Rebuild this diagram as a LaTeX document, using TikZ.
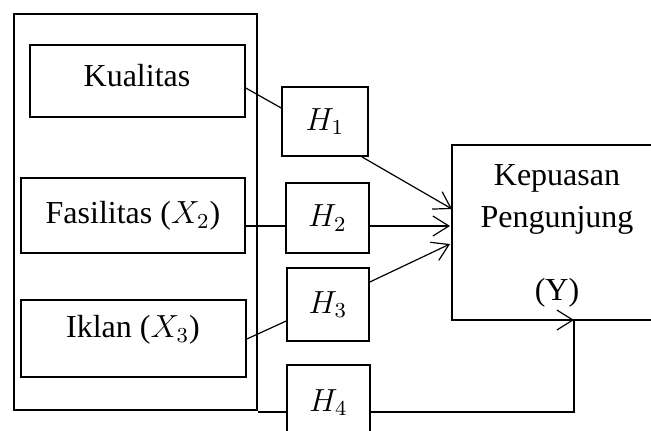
\documentclass[tikz,border=0pt]{standalone}
\usepackage{fontspec}
\setmainfont{Liberation Serif}
\usetikzlibrary{positioning}
\usetikzlibrary{arrows.meta}
\usetikzlibrary{calc}
\tikzset{
  box/.style={draw, line width=0.6pt, inner sep=0pt, align=center},
  link/.style={draw, line width=0.45pt},
  tip/.style={-{Straight Barb[length=6pt,width=7.5pt]}}
}
\def\px#1{#1*0.375pt}

\begin{document}
\begin{tikzpicture}[x=0.375pt, y=-0.375pt, font=\fontsize{12}{15.75}\selectfont]
\clip (0,0) rectangle (651,430);
\useasboundingbox (0,0) rectangle (651,430);
% left group
\node[box, minimum width=\px{243}, minimum height=\px{396}] (grp) at (135.5,212) {};
\node[box, minimum width=\px{215}, minimum height=\px{72}] (kual) at (137.5,81) {};
\node (kualtxt) at (137,76) {Kualitas};
\node[box, minimum width=\px{224}, minimum height=\px{75}] (fas) at (133,215.5) {Fasilitas ($X_2$)};
\node[box, minimum width=\px{225}, minimum height=\px{77}] (ikl) at (133.5,338.5) {};
\node (ikltxt) at (133,330) {Iklan ($X_3$)};
% hypothesis boxes
\node[box, minimum width=\px{86}, minimum height=\px{69}] (h1) at (325,121.5) {$H_1$};
\node[box, minimum width=\px{83}, minimum height=\px{70}] (h2) at (327.5,218) {$H_2$};
\node[box, minimum width=\px{82}, minimum height=\px{73}] (h3) at (328,304.5) {$H_3$};
\node[box, minimum width=\px{83}, minimum height=\px{75}] (h4) at (328.5,402.5) {$H_4$};
% dependent variable
\node[box, minimum width=\px{208}, minimum height=\px{175}] (y) at (556,232.5) {};
\node[align=center] (ytxt) at (557,236) {Kepuasan\\Pengunjung\\[11.6pt](Y)};
% connectors
\coordinate (a1) at (452,209);
\coordinate (a2) at (450,226);
\coordinate (a3) at (450,244);
\coordinate (a4) at (574,320);
\coordinate (bend) at (574,412);
\draw[link] (kual.east |- 0,88) -- (h1.west |- 0,108);
\draw[link, tip] ($(h1.south east)+(-7,0)$) -- (a1);
\draw[link] (fas.east |- 0,226) -- (h2.west |- 0,226);
\draw[link, tip] (h2.east |- 0,226) -- (a2);
\draw[link] (ikl.east |- 0,339) -- (h3.west |- 0,321);
\draw[link, tip] (h3.east |- 0,282) -- (a3);
\draw[link] (grp.east |- 0,412) -- (h4.west |- 0,412);
\draw[link] (h4.east |- 0,412) -- (bend) -- (a4);
\draw[link, tip] ($(a4)+(-1,0)$) -- (a4);
\end{tikzpicture}
\end{document}
